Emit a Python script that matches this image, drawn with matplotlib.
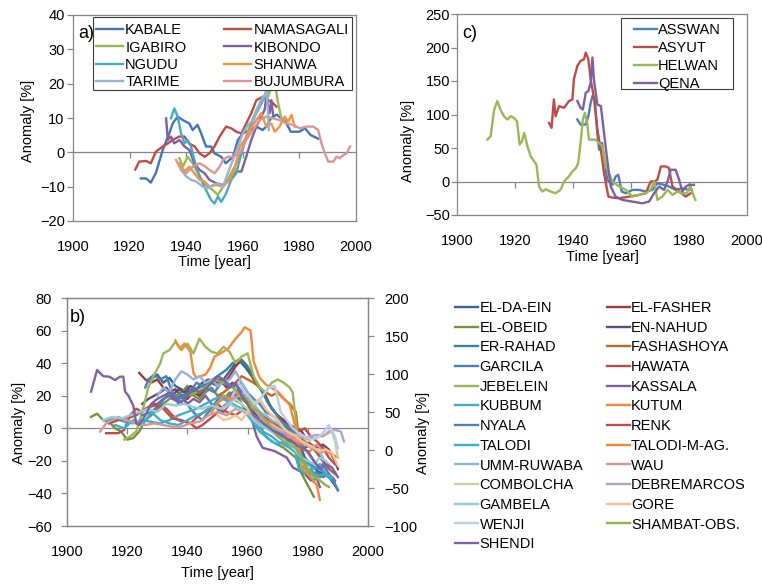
import matplotlib
matplotlib.use('Agg')
import matplotlib.pyplot as plt
from matplotlib.patches import Rectangle

plt.rcParams['font.family'] = ['Liberation Sans', 'DejaVu Sans']
plt.rcParams['font.size'] = 10.5

W, H = 762, 584
GRAY = '#868686'

# ---------------- panel a) ----------------
KABALE_T = [1924, 1925.8, 1927.5, 1929.3, 1931.7, 1934, 1935.2, 1937, 1938.8, 1941.1, 1942.3, 1944, 1945.3,
            1947, 1948.8, 1950, 1952.4, 1954, 1956.5, 1958.3, 1960, 1962.4, 1964.8, 1967, 1968.3, 1970, 1972,
            1975, 1977, 1980, 1982, 1984, 1986.6]
KABALE_V = [-7.6, -7.6, -8.8, -6, 0.7, 5.5, 8.4, 10.4, 9.4, 8.4, 6.5, 8, 5.5, 1.7, 1.7, -0.3, -1.3, -3.2,
            -1.3, 3.6, 5.5, 6.5, 7.5, 6.5, 7.5, 10, 11, 9, 6, 6, 7, 5, 4]
NAMASAGALI_T = [1922, 1923.4, 1925.8, 1927.5, 1929.3, 1931.7, 1933.5, 1935.2, 1937.6, 1939.4, 1941, 1943,
                1944.7, 1946.5, 1948.2, 1950, 1951.8, 1954.1, 1955.9, 1957.7, 1959.5, 1961.2, 1963, 1964.8,
                1967.1, 1968.9, 1970.7, 1971.9]
NAMASAGALI_V = [-5, -2.7, -2.5, -3.2, 0.2, 1.7, 2.6, 3.6, 4.6, 4.6, 2.6, 1.7, -0.3, -1.3, -0.3, 1.7, 4.6,
                7.5, 7, 6, 5.5, 8.4, 11.4, 15.2, 16.2, 15.2, 14.3, 13.3]
IGABIRO_T = [1937.6, 1938.8, 1940.5, 1942.3, 1944.7, 1947, 1949.4, 1951.2, 1953, 1955.3, 1957.7, 1960,
             1962.4, 1964.8, 1967.1, 1968.5, 1970.1, 1971.3, 1972.5, 1973.6, 1975.4]
IGABIRO_V = [-1.7, -4.2, -1.3, -3.2, -7, -9.5, -11, -12.4, -10, -7, -3.2, 1.7, 7.5, 12.3, 16.2, 15.2,
             19.1, 20.1, 14.3, 9.9, 9.4]
KIBONDO_T = [1932.9, 1933.5, 1934.6, 1935.8, 1937.6, 1939.4, 1941.1, 1942.9, 1944.7, 1946.5, 1948.2,
             1950.6, 1953, 1955.3, 1957.7, 1959.5, 1961.2, 1963, 1964.8, 1966.5, 1967.7, 1968.3, 1969.5,
             1970.1, 1970.7]
KIBONDO_V = [9.9, 3.6, 4.6, 2.6, 3.6, 1.7, 0.7, -3.2, -5.1, -6.1, -8, -9, -9.5, -8, -5.6, -5.6, -1.3, 3.6,
             7.5, 10.4, 12.3, 16.2, 11.4, 15.2, 10.9]
NGUDU_T = [1934.6, 1935.8, 1937, 1938.2, 1939.4, 1940.5, 1941.7, 1943.5, 1945.3, 1947, 1948.8, 1950,
           1951.2, 1952.4, 1954.1, 1955.9, 1957.7, 1958.9, 1960.6, 1962.4, 1964.2, 1966, 1967.7, 1968.9]
NGUDU_V = [9.9, 12.8, 10.4, 5.5, 2.6, 3.6, 1.7, -4.2, -8, -11, -13.9, -14.9, -12.9, -14.4, -12, -8, -6.1,
           -2.2, 2.6, 6.5, 10.4, 13.3, 16.2, 18.2]
SHANWA_T = [1937.6, 1939.4, 1941.1, 1942.9, 1944.7, 1946.5, 1948.2, 1950.6, 1953, 1955.3, 1957.1, 1958.9,
            1960.6, 1962.4, 1964.8, 1966.5, 1968.3, 1970.1, 1971.3, 1973, 1974.8, 1976, 1977.2, 1978.4]
SHANWA_V = [-3.2, -5.6, -4.2, -6.1, -8, -8.5, -10, -9.5, -10, -8, -5.1, 1.7, 3.6, 6.5, 9.4, 11.4, 7.5,
            8.4, 6, 7.5, 10.4, 8.9, 10.9, 7.5]
TARIME_T = [1938.2, 1940, 1941.7, 1943.5, 1945.9, 1947.6, 1949.4, 1951.2, 1953, 1954.7, 1956.5, 1958.3,
            1960, 1961.8, 1963.6, 1966, 1967.7, 1968.3, 1968.9, 1969.2]
TARIME_V = [-5.1, -7, -8, -8.5, -10, -10.5, -9.5, -9, -10, -6.1, -2.2, 1.7, 5.5, 8, 9.4, 14.3, 16.7, 18.2,
            12, 6.5]
BUJUMBURA_T = [1936.4, 1938.2, 1940, 1942.3, 1944.7, 1946.5, 1948.2, 1950, 1951.8, 1953, 1954.7, 1956.5,
               1958.9, 1961.2, 1963.6, 1966, 1968.3, 1970.7, 1973, 1975.4, 1977.7, 1980.1, 1982.5, 1984.9,
               1986.6, 1987.8, 1989, 1990.2, 1992, 1993.1, 1994.3, 1995.5, 1996.7, 1997.9]
BUJUMBURA_V = [-2.2, -5.1, -6.1, -4.2, -3.2, -4, -5.1, -6.1, -4.2, -2.2, -1.3, -1.3, -0.3, 3.6, 6.5, 9.4,
               10.4, 9.9, 9.4, 8.4, 8, 7, 7.5, 7.5, 6.5, 2.6, -0.3, -2.7, -2.7, -1.3, -1.7, -0.8, -0.3, 1.7]

A_NAMES = ['KABALE', 'NAMASAGALI', 'IGABIRO', 'KIBONDO', 'NGUDU', 'SHANWA', 'TARIME', 'BUJUMBURA']
A_T = [KABALE_T, NAMASAGALI_T, IGABIRO_T, KIBONDO_T, NGUDU_T, SHANWA_T, TARIME_T, BUJUMBURA_T]
A_V = [KABALE_V, NAMASAGALI_V, IGABIRO_V, KIBONDO_V, NGUDU_V, SHANWA_V, TARIME_V, BUJUMBURA_V]
A_COLORS = ['#4274B8', '#BE4B48', '#98B954', '#7D60A0', '#46AAC5', '#F69240', '#95B3D7', '#D99694']

# ---------------- panel c) ----------------
ASSWAN_T = [1941.5, 1942.6, 1944.4, 1945.3, 1946.1, 1946.7, 1947.5, 1948.4, 1949, 1950, 1950.7, 1951.8,
            1953.6, 1954.7, 1955.6, 1956.8, 1958.2, 1960.5, 1962.8, 1965.1, 1967.4, 1969.1, 1971.4, 1973.1,
            1975.4, 1977.7, 1980, 1981]
ASSWAN_V = [92.5, 85, 85, 97.5, 117.5, 127.5, 122, 72.5, 47.5, 57.5, 37.5, 2.5, -5, 7.5, 10, -15, -17.5,
            -12.5, -12.5, -15, -12.5, -2.5, -5, -7.5, -12.5, -10, -12.5, -12.5]
ASYUT_T = [1931.7, 1932.6, 1933.4, 1934, 1935.2, 1936.9, 1938.6, 1939.8, 1940.3, 1941.5, 1942.6, 1943.8,
           1944.4, 1945.3, 1946.1, 1947.3, 1948.4, 1949.6, 1950.7, 1952.2, 1953.6, 1955.9, 1959.4, 1962.8,
           1965.1, 1966.8, 1968, 1969.1, 1970.3, 1972, 1973.1, 1974.3, 1976.6, 1978.9, 1980.6]
ASYUT_V = [87.5, 80, 122.5, 97.5, 112.5, 110, 120, 122.5, 152.5, 172.5, 180, 182.5, 192.5, 182.5, 152.5,
           122.5, 77.5, 47.5, 12.5, -22.5, -24, -25, -22.5, -20, -17.5, 0, 0, 2.5, 22.5, 22.5, 20, -7.5,
           -15, -22.5, -17.5]
HELWAN_T = [1910.5, 1911.6, 1912.8, 1913.9, 1915, 1916.2, 1917.4, 1918.5, 1919.6, 1920.7, 1921.6, 1922.4,
            1923.2, 1924.3, 1925.4, 1926.6, 1927.4, 1928.3, 1929.4, 1930.6, 1932.3, 1934, 1935.7, 1936.9,
            1938.6, 1939.8, 1941, 1941.8, 1942.6, 1943.4, 1944.1, 1944.9, 1945.5, 1947.8, 1948.9, 1950.1,
            1951.3, 1952.4, 1953.6, 1955.9, 1958.2, 1960.5, 1962.8, 1965.1, 1966.8, 1968, 1969.1, 1970.8,
            1972.6, 1974.3, 1976, 1977.7, 1979.2, 1980.5, 1981.7, 1982.2]
HELWAN_V = [62.5, 67.5, 107, 120, 107, 97.5, 92.5, 97.5, 95, 90, 55, 60, 72.5, 52.5, 37.5, 30, 25, -7.5,
            -15, -11.5, -15, -17.5, -12.5, 0, 7.5, 15, 20, 27.5, 57.5, 92.5, 102.5, 87.5, 62.5, 62.5, 57.5,
            52.5, 22.5, 12.5, 0, -7.5, -12.5, -22.5, -20, -17.5, -12.5, 0, -27.5, -22.5, -12.5, -20, -15,
            -17.5, -17.5, -7.5, -22.5, -27.5]
QENA_T = [1941.5, 1942.6, 1943.4, 1944.4, 1945.3, 1946.1, 1946.7, 1947.2, 1948.4, 1949.6, 1950.7, 1951.8,
          1953, 1954.7, 1957, 1960.5, 1963.9, 1966.2, 1968, 1969.7, 1971.4, 1972.6, 1973.7, 1975.4, 1976.6,
          1977.7, 1978.9, 1980, 1981.7]
QENA_V = [120, 110, 107.5, 132.5, 135, 147.5, 185, 152.5, 115, 112.5, 72.5, 32.5, -7.5, -22.5, -27.5, -30,
          -32.5, -30, -17.5, -7.5, -12.5, 0, 17.5, 17.5, 2.5, -15, -7.5, -5, -5]

C_NAMES = ['ASSWAN', 'ASYUT', 'HELWAN', 'QENA']
C_T = [ASSWAN_T, ASYUT_T, HELWAN_T, QENA_T]
C_V = [ASSWAN_V, ASYUT_V, HELWAN_V, QENA_V]
C_COLORS = ['#4A7EBB', '#BE4B48', '#98B954', '#7D60A0']

# ---------------- panel b) ----------------
ELDAEIN_T = [1928, 1930, 1932, 1934, 1936, 1938, 1940, 1942, 1944, 1946, 1948, 1950, 1952, 1954, 1956, 1957,
             1959, 1961, 1963, 1965, 1967, 1969, 1971, 1973, 1975, 1977, 1979, 1981, 1983, 1985, 1987, 1989, 1990]
ELDAEIN_V = [30, 33, 28, 31, 26, 24, 22, 25, 20, 24, 28, 26, 30, 35, 40, 42, 38, 33, 28, 22, 15, 10, 5, 2,
             -2, -8, -18, -22, -26, -28, -30, -35, -38]
ELFASHER_T = [1924, 1926, 1928, 1930, 1932, 1934, 1936, 1938, 1940, 1942, 1944, 1946, 1948, 1950, 1952, 1954,
              1956, 1958, 1960, 1962, 1964, 1966, 1968, 1970, 1972, 1974, 1976, 1978, 1979, 1981, 1983, 1985,
              1987, 1989]
ELFASHER_V = [34, 30, 28, 30, 25, 22, 24, 20, 18, 22, 20, 25, 28, 30, 27, 32, 38, 42, 38, 30, 25, 20, 12, 8,
              5, 2, 0, -2, -5, -10, -15, -20, -24, -27]
ELOBEID_T = [1908, 1910, 1912, 1914, 1916, 1918, 1920, 1922, 1924, 1926, 1928, 1930, 1932, 1934, 1936, 1938,
             1940, 1942, 1944, 1946, 1948, 1950, 1952, 1954, 1956, 1958, 1960, 1962, 1964, 1966, 1968, 1970,
             1972, 1974, 1976, 1978, 1980, 1982]
ELOBEID_V = [7, 9, 5, 4, 0, -2, -7, -6, -2, 5, 8, 12, 15, 18, 20, 22, 26, 20, 18, 22, 25, 20, 18, 22, 20, 18,
             15, 8, 2, -5, -8, -10, -12, -15, -18, -28, -35, -42]
ENNAHUD_T = [1925, 1927, 1929, 1931, 1933, 1935, 1937, 1939, 1941, 1943, 1945, 1947, 1949, 1951, 1953, 1955,
             1957, 1959, 1961, 1963, 1965, 1967, 1969, 1971, 1973, 1975, 1977, 1979, 1981, 1983, 1985, 1987,
             1989, 1990]
ENNAHUD_V = [15, 18, 20, 22, 25, 20, 24, 22, 26, 24, 28, 30, 27, 30, 25, 28, 22, 18, 12, 8, 5, 2, 0, -3, -5,
             -8, -10, -12, -10, -12, -10, -13, -20, -25]
ERRAHAD_T = [1935, 1938, 1941, 1944, 1947, 1950, 1953, 1955, 1957, 1959, 1961, 1963, 1965, 1967, 1969, 1971,
             1973, 1975, 1976, 1977, 1979, 1981, 1983, 1985, 1987, 1989]
ERRAHAD_V = [18, 20, 22, 25, 28, 32, 36, 40, 42, 40, 35, 28, 22, 15, 10, 5, 0, -5, -8, -22, -25, -28, -27,
             -30, -28, -32]
FASHASHOYA_T = [1950, 1952, 1954, 1956, 1958, 1960, 1962, 1964, 1966, 1968, 1970, 1972, 1974, 1976, 1977,
                1978, 1980, 1982, 1984]
FASHASHOYA_V = [20, 22, 25, 28, 32, 30, 28, 25, 22, 20, 22, 18, 15, 10, -5, -20, -25, -28, -30]
GARCILA_T = [1926, 1927, 1929, 1931, 1933, 1935, 1937, 1939, 1941, 1943, 1945, 1947, 1949, 1951, 1953, 1955,
             1957, 1959, 1961, 1963, 1965, 1967, 1969, 1971, 1973, 1975, 1977, 1979, 1981, 1983, 1985, 1987, 1988]
GARCILA_V = [25, 30, 33, 30, 32, 22, 15, 18, 12, 8, 5, 10, 15, 20, 18, 22, 25, 20, 15, 10, 5, 2, 0, -2, -5,
             -8, -12, -20, -22, -25, -22, -28, -30]
HAWATA_T = [1913, 1915, 1917, 1919, 1921, 1923, 1925, 1927, 1929, 1931, 1933, 1935, 1937, 1939, 1941, 1943,
            1945, 1947, 1949, 1951, 1953, 1955, 1957, 1959, 1961, 1963, 1965, 1967, 1969, 1971, 1973, 1975,
            1977, 1979, 1981, 1983, 1985, 1987, 1989]
HAWATA_V = [-3, -3, -3, -1, 8, 12, 10, 13, 15, 14, 12, 8, 5, 4, 3, 0, 2, 5, 8, 12, 15, 20, 22, 18, 15, 10, 8,
            5, 3, 0, -2, 0, -2, 0, -5, -8, -12, -18, -22]
JEBELEIN_T = [1919, 1921, 1923, 1925, 1927, 1929, 1931, 1932, 1934, 1936, 1938, 1940, 1942, 1944, 1946, 1948,
              1950, 1952, 1954, 1956, 1958, 1960, 1962, 1964, 1966, 1968, 1970, 1972, 1974, 1975, 1976, 1977,
              1978, 1980, 1982]
JEBELEIN_V = [-7, -5, -2, 10, 25, 33, 40, 46, 48, 53, 48, 52, 46, 55, 50, 47, 46, 50, 47, 40, 44, 46, 32, 25,
              22, 28, 30, 28, 25, 22, 5, -15, -25, -30, -33]
KASSALA_T = [1930, 1932, 1934, 1936, 1938, 1940, 1942, 1944, 1946, 1948, 1950, 1952, 1954, 1955, 1957, 1959,
             1961, 1963, 1965, 1967, 1969, 1971, 1973, 1975, 1977, 1979, 1981, 1983, 1984]
KASSALA_V = [15, 18, 20, 17, 19, 15, 18, 16, 20, 15, 12, 10, 15, 22, 18, 12, 8, -5, -12, -13, -14, -16, -18,
             -24, -26, -28, -32, -31, -36]
KUBBUM_T = [1913, 1916, 1919, 1922, 1925, 1928, 1931, 1934, 1937, 1940, 1943, 1946, 1949, 1952, 1955, 1958,
            1960, 1962, 1964, 1966, 1968, 1970, 1972, 1974, 1976, 1977, 1979, 1981, 1983, 1985, 1987, 1989]
KUBBUM_V = [5, 6, 4, 3, 5, 4, 3, 5, 8, 10, 12, 15, 18, 20, 18, 15, 10, 5, 0, -3, -5, -8, -10, -12, -15, -25,
            -28, -25, -30, -28, -30, -33]
KUTUM_T = [1936, 1937.5, 1939, 1941, 1942, 1943, 1946, 1947.5, 1949, 1951, 1953.6, 1956, 1958, 1959, 1961,
           1962, 1964, 1966, 1970, 1972, 1974, 1975.7, 1977, 1979, 1981, 1983, 1984]
KUTUM_V = [54, 49, 52, 47, 34, 31, 33, 37, 44, 46, 49, 55, 59, 62, 60, 41, 31, 27, 22.5, 18.4, 14.3, 2, -12,
           -25, -30, -35, -44]
NYALA_T = [1925, 1928, 1931, 1934, 1937, 1940, 1943, 1946, 1949, 1952, 1955, 1958, 1960, 1962, 1964, 1966,
           1968, 1970, 1972, 1974, 1976, 1978, 1980, 1982, 1984, 1986, 1988, 1990]
NYALA_V = [8, 10, 15, 22, 18, 20, 28, 25, 22, 30, 25, 28, 22, 18, 15, 10, 8, 5, 3, 0, -3, -10, -15, -20, -25,
           -28, -30, -38]
RENK_T = [1914, 1917, 1920, 1923, 1926, 1929, 1932, 1935, 1938, 1941, 1944, 1947, 1950, 1953, 1956, 1959,
          1961, 1963, 1965, 1967, 1969, 1971, 1973, 1975, 1977, 1979, 1981, 1983, 1985, 1987, 1989]
RENK_V = [3, 5, 6, 8, 12, 14, 12, 6, 5, 3, 8, 12, 15, 10, 8, 12, 10, 5, 3, 0, -3, -5, -8, -6, -5, -8, -10,
          -15, -20, -25, -28]
TALODI_T = [1916, 1919, 1922, 1925, 1928, 1931, 1934, 1937, 1940, 1943, 1946, 1949, 1952, 1955, 1958, 1960,
            1962, 1964, 1966, 1968, 1970, 1972, 1974, 1976, 1978, 1980, 1982, 1984, 1986, 1988]
TALODI_V = [2, 0, 5, 2, 10, 5, 3, 2, 5, 8, 10, 15, 18, 15, 12, 8, 3, -2, -5, -8, -10, -8, -12, -15, -20, -22,
            -25, -22, -28, -30]
TALODIMAG_T = [1948, 1950, 1952, 1954, 1956, 1958, 1960, 1962, 1964, 1966, 1968, 1970, 1972, 1974, 1976, 1978,
               1980, 1982, 1984, 1986, 1988, 1990]
TALODIMAG_V = [10, 15, 20, 18, 22, 20, 15, 12, 8, 5, 3, 0, -2, -5, -8, -12, -15, -12, -15, -14, -16, -18]
UMMRUWABA_T = [1930, 1932, 1934, 1936, 1938, 1940, 1942, 1944, 1946, 1948, 1950, 1952, 1954, 1956, 1958, 1960,
               1962, 1964, 1966, 1968, 1970, 1972, 1974, 1976, 1978, 1980, 1982, 1984, 1985]
UMMRUWABA_V = [20, 25, 22, 30, 35, 33, 30, 32, 28, 30, 26, 28, 30, 35, 28, 22, 15, 10, 8, 5, 3, 0, -3, -5, -8,
               -10, -12, -15, -18]
WAU_T = [1911, 1913, 1915, 1917, 1920, 1923, 1926, 1929, 1932, 1935, 1938, 1941, 1944, 1947, 1950, 1953, 1956,
         1959, 1961, 1963, 1965, 1967, 1969, 1971, 1973, 1975, 1977, 1979, 1981, 1983, 1985]
WAU_V = [-2, 3, 5, 7, 5, 3, 2, 3, 2, 1, 1, 3, 4, 8, 10, 8, 12, 10, 8, 5, 2, 0, -2, -4, -5, -6, -8, -10, -12,
         -10, -14]
COMBOLCHA_T = [1952, 1954, 1956, 1958, 1960, 1962, 1964, 1966, 1968, 1970, 1972, 1974, 1976, 1978, 1980, 1982,
               1984, 1986, 1988, 1989, 1990]
COMBOLCHA_V = [12, 15, 18, 15, 12, 8, 5, 3, 2, 0, -2, -3, -4, -5, -8, -6, -5, -4, -2, -8, -18]
DEBREMARCOS_T = [1953, 1955, 1957, 1959, 1961, 1963, 1965, 1967, 1969, 1971, 1973, 1975, 1977, 1979, 1981,
                 1983, 1985, 1987, 1989, 1991, 1992]
DEBREMARCOS_V = [15, 18, 20, 22, 15, 10, 5, 2, 0, -2, -3, -4, -5, -6, -5, -4, -5, -2, -1, -2, -8]
GAMBELA_T = [1912, 1915, 1918, 1921, 1924, 1927, 1930, 1933, 1936, 1939, 1942, 1945, 1948, 1951, 1954, 1957,
             1960, 1962, 1964, 1966, 1968, 1970, 1972, 1974, 1976, 1978, 1980, 1982, 1984, 1986, 1988]
GAMBELA_V = [5, 7, 6, 8, 10, 12, 10, 15, 14, 15, 13, 12, 14, 12, 15, 12, 10, 5, 2, 0, -2, -5, -7, -10, -14,
             -18, -20, -22, -18, -20, -25]
GORE_T = [1950, 1952, 1954, 1956, 1958, 1960, 1962, 1964, 1966, 1968, 1970, 1972, 1974, 1976, 1978, 1980, 1982,
          1984, 1986, 1988, 1990]
GORE_V = [8, 5, 6, 8, 5, 10, 15, 18, 12, 8, 5, 0, -3, -5, -8, -10, -12, -14, -13, -15, -23]
WENJI_T = [1955, 1957, 1959, 1961, 1963, 1965, 1967, 1969, 1971, 1973, 1975, 1977, 1979, 1981, 1983, 1985,
           1987, 1989, 1990]
WENJI_V = [20, 28, 22, 18, 15, 20, 25, 26, 10, 5, 0, -3, -5, -7, -6, -3, 2, -5, -12]
SHAMBAT_T = [1940, 1943, 1946, 1949, 1952, 1955, 1958, 1960, 1962, 1964, 1966, 1968, 1970, 1972, 1974, 1976,
             1978, 1980, 1982, 1984, 1986, 1987]
SHAMBAT_V = [20, 22, 25, 30, 28, 25, 20, 18, 12, 10, 5, 0, -5, -8, -10, -12, -18, -25, -30, -32, -35, -36]
SHENDI_T = [1908, 1910, 1912, 1914, 1916, 1917.6, 1918.7, 1919.3, 1920.4, 1922, 1923, 1924, 1926, 1928, 1930,
            1932, 1934, 1936, 1938, 1940, 1942, 1944, 1946, 1948, 1950, 1952, 1954, 1956, 1958, 1960, 1962,
            1964, 1966, 1968, 1970, 1972, 1974, 1976, 1978, 1980, 1982, 1984, 1986, 1988, 1990]
SHENDI_V = [22.5, 35.8, 32, 31.7, 29.6, 31.7, 31.7, 22.5, 20, 14, 3, 2, 8, 15, 18, 20, 22, 18, 16, 20, 25, 22,
            24, 28, 32, 30, 25, 28, 20, 15, 8, 5, 2, -1, -3, -5, -8, -10, -12, -14, -20, -25, -22, -24, -30]

B_NAMES = ['EL-DA-EIN', 'EL-FASHER', 'EL-OBEID', 'EN-NAHUD', 'ER-RAHAD', 'FASHASHOYA', 'GARCILA', 'HAWATA',
           'JEBELEIN', 'KASSALA', 'KUBBUM', 'KUTUM', 'NYALA', 'RENK', 'TALODI', 'TALODI-M-AG.', 'UMM-RUWABA',
           'WAU', 'COMBOLCHA', 'DEBREMARCOS', 'GAMBELA', 'GORE', 'WENJI', 'SHAMBAT-OBS.', 'SHENDI']
B_T = [ELDAEIN_T, ELFASHER_T, ELOBEID_T, ENNAHUD_T, ERRAHAD_T, FASHASHOYA_T, GARCILA_T, HAWATA_T, JEBELEIN_T,
       KASSALA_T, KUBBUM_T, KUTUM_T, NYALA_T, RENK_T, TALODI_T, TALODIMAG_T, UMMRUWABA_T, WAU_T, COMBOLCHA_T,
       DEBREMARCOS_T, GAMBELA_T, GORE_T, WENJI_T, SHAMBAT_T, SHENDI_T]
B_V = [ELDAEIN_V, ELFASHER_V, ELOBEID_V, ENNAHUD_V, ERRAHAD_V, FASHASHOYA_V, GARCILA_V, HAWATA_V, JEBELEIN_V,
       KASSALA_V, KUBBUM_V, KUTUM_V, NYALA_V, RENK_V, TALODI_V, TALODIMAG_V, UMMRUWABA_V, WAU_V, COMBOLCHA_V,
       DEBREMARCOS_V, GAMBELA_V, GORE_V, WENJI_V, SHAMBAT_V, SHENDI_V]
B_COLORS = ['#3B6199', '#9B3A38', '#76923C', '#5F4A7F', '#31859C', '#C0692A', '#4A7EBB', '#BE4B48',
            '#98B954', '#7D60A0', '#46AAC5', '#F08A3C', '#4F81BD', '#C0504D', '#35B2D0', '#F7862F',
            '#95B3D7', '#D99694', '#C3D69B', '#B3A2C7', '#93CDDD', '#FAC090', '#B9CDE5', '#8DB448', '#7E63A0']


def px_box(l, t, r, b):
    return [l / W, 1 - b / H, (r - l) / W, (b - t) / H]


def style(ax, ylo, yhi, ystep, ypad):
    ax.set_xlim(1900, 2000)
    ax.set_ylim(ylo, yhi)
    for s in ax.spines.values():
        s.set_color(GRAY)
        s.set_linewidth(0.9)
    ax.set_xticks(range(1900, 2001, 20))
    ax.set_yticks(range(ylo, yhi + 1, ystep))
    ax.tick_params(axis='x', length=0, pad=13.5)
    ax.tick_params(axis='y', direction='out', length=4, width=0.9, color=GRAY, pad=ypad)
    zero = ax.secondary_xaxis(-ylo / (yhi - ylo))
    zero.spines['bottom'].set_color(GRAY)
    zero.spines['bottom'].set_linewidth(0.9)
    zero.set_xticks(range(1920, 1981, 20))
    zero.tick_params(direction='out', length=4, width=0.9, color=GRAY, labelbottom=False)


def frame(ax, l, t, r, b):
    ax.add_patch(Rectangle((l / W, 1 - b / H), (r - l) / W, (b - t) / H, transform=ax.figure.transFigure,
                           facecolor='white', edgecolor='#3a3a3a', lw=0.8, zorder=4, clip_on=False))


def two_col(n):
    # matplotlib fills legend columns first; the chart reads row by row
    return list(range(0, n, 2)) + list(range(1, n, 2))


fig = plt.figure(figsize=(W / 100, H / 100), dpi=100)

# a)
ax_a = fig.add_axes(px_box(73, 15, 356, 221))
style(ax_a, -20, 40, 10, 2)
lines_a = []
for t, v, c, n in zip(A_T, A_V, A_COLORS, A_NAMES):
    ln, = ax_a.plot(t, v, color=c, lw=1.7, label=n)
    lines_a.append(ln)
ax_a.set_ylabel('Anomaly [%]')
ax_a.yaxis.set_label_coords((35 - 73) / 283, 1 - (121 - 15) / 206)
ax_a.set_xlabel('Time [year]')
ax_a.xaxis.set_label_coords(0.5, 1 - (255 - 15) / 206)
ax_a.text(78 / W, 1 - 33 / H, 'a)', transform=fig.transFigure, fontsize=13, va='center', zorder=6)
frame(ax_a, 93, 17, 352, 90)
ia = two_col(len(A_NAMES))
ax_a.legend([lines_a[i] for i in ia], [A_NAMES[i] for i in ia], ncol=2, loc='upper left',
            bbox_to_anchor=(96 / W, 1 - 23 / H), bbox_transform=fig.transFigure,
            frameon=False, borderpad=0, borderaxespad=0, handlelength=1.85, handletextpad=0.15,
            labelspacing=0.24, columnspacing=2.6, fontsize=10.5)

# c)
ax_c = fig.add_axes(px_box(457, 14, 747, 215))
style(ax_c, -50, 250, 50, 1)
for t, v, c, n in zip(C_T, C_V, C_COLORS, C_NAMES):
    ax_c.plot(t, v, color=c, lw=1.7, label=n)
ax_c.set_ylabel('Anomaly [%]')
ax_c.yaxis.set_label_coords((415 - 457) / 290, 1 - (141 - 14) / 201)
ax_c.set_xlabel('Time [year]')
ax_c.xaxis.set_label_coords(0.5, 1 - (250 - 14) / 201)
ax_c.text(462 / W, 1 - 34 / H, 'c)', transform=fig.transFigure, fontsize=13, va='center', zorder=6)
frame(ax_c, 621, 18, 733, 89)
ax_c.legend(loc='upper left', bbox_to_anchor=(634 / W, 1 - 23 / H), bbox_transform=fig.transFigure,
            frameon=False, borderpad=0, borderaxespad=0, handlelength=1.6, handletextpad=0.05,
            labelspacing=0.27, fontsize=10.5)

# b)
ax_b = fig.add_axes(px_box(67, 298, 368, 526))
style(ax_b, -60, 80, 20, 7)
lines_b = []
for t, v, c, n in zip(B_T, B_V, B_COLORS, B_NAMES):
    ln, = ax_b.plot(t, v, color=c, lw=1.7, label=n)
    lines_b.append(ln)
ax_b.set_ylabel('Anomaly [%]')
ax_b.yaxis.set_label_coords((26 - 67) / 301, 1 - (423 - 298) / 228)
ax_b.set_xlabel('Time [year]')
ax_b.xaxis.set_label_coords(0.5, 1 - (566 - 298) / 228)
ax_b.text(70 / W, 1 - 317 / H, 'b)', transform=fig.transFigure, fontsize=13, va='center', zorder=6)

ax_r = ax_b.twinx()
ax_r.set_ylim(-100, 200)
ax_r.set_yticks(range(-100, 201, 50))
for s in ax_r.spines.values():
    s.set_color(GRAY)
    s.set_linewidth(0.9)
ax_r.tick_params(axis='y', direction='out', length=4, width=0.9, color=GRAY, pad=8)
ax_r.set_ylabel('Anomaly [%]')
ax_r.yaxis.set_label_coords((416 - 67) / 301, 1 - (433 - 298) / 228)

ib = two_col(len(B_NAMES))
fig.legend([lines_b[i] for i in ib], [B_NAMES[i] for i in ib], ncol=2, loc='upper left',
           bbox_to_anchor=(455 / W, 1 - 301 / H), frameon=False, borderpad=0, borderaxespad=0,
           handlelength=1.6, handletextpad=0.08, labelspacing=0.39, columnspacing=1.6, fontsize=10.5)

fig.savefig('out.png', dpi=100)
